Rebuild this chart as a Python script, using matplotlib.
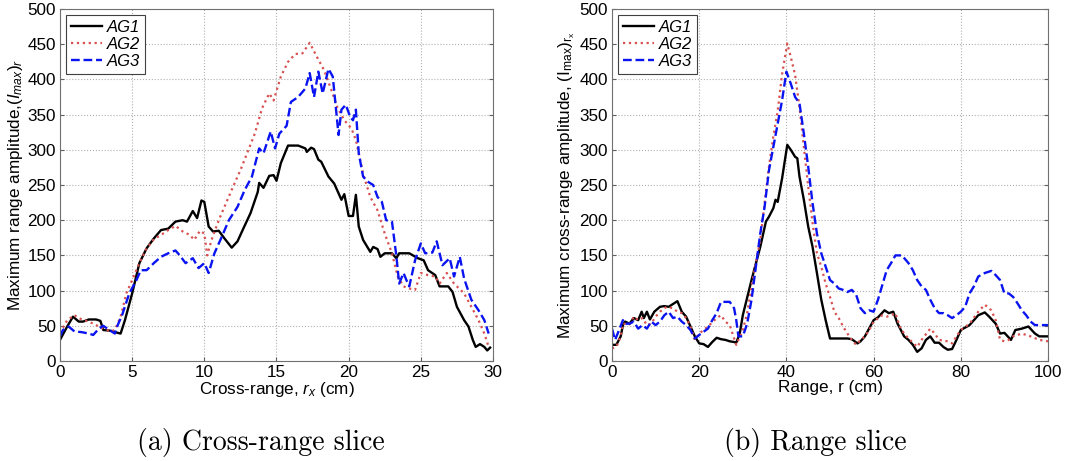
import matplotlib
matplotlib.use("Agg")
import matplotlib.pyplot as plt
import numpy as np

plt.rcParams['font.family'] = ['Liberation Sans', 'DejaVu Sans']
plt.rcParams['mathtext.fontset'] = 'custom'
plt.rcParams['mathtext.rm'] = 'Liberation Sans'
plt.rcParams['mathtext.it'] = 'Liberation Sans:italic'

# ---------------- (a) Cross-range slice ----------------
a_ag1_x = [0, 0.5, 0.9, 1.3, 1.6, 2, 2.5, 2.8, 3.0, 3.5, 4.0, 4.2, 4.5, 5.0, 5.5, 6, 6.5, 7, 7.5, 8, 8.5, 8.8,
           9.2, 9.5, 9.8, 10, 10.3, 10.6, 11, 11.4, 11.9, 12.3, 12.7, 13.2, 13.7, 13.8, 14.1, 14.5, 14.8, 15.0,
           15.3, 15.8, 16.5, 17, 17.1, 17.4, 17.6, 17.9, 18.1, 18.6, 19, 19.5, 19.7, 20, 20.3, 20.5, 20.7, 21,
           21.5, 21.7, 22, 22.2, 22.5, 23, 23.3, 23.5, 24.2, 24.8, 25.2, 25.5, 26, 26.3, 26.9, 27.2, 27.5, 28.0,
           28.3, 28.6, 28.8, 29.1, 29.4, 29.6, 29.8]
a_ag1_y = [30, 49, 63, 56, 56, 59, 59, 57, 44, 43, 40, 39, 58, 96, 139, 160, 174, 186, 188, 198, 200, 198,
           213, 203, 228, 226, 191, 184, 185, 174, 161, 170, 188, 210, 240, 253, 246, 263, 264, 256,
           281, 306, 306, 302, 297, 303, 301, 286, 283, 262, 252, 229, 237, 206, 206, 236, 191, 172,
           155, 162, 159, 148, 153, 153, 146, 153, 153, 146, 143, 129, 122, 106, 106, 98, 77, 58,
           49, 30, 20, 24, 20, 15, 19]

a_ag2_x = [0, 0.5, 1, 1.5, 2, 2.5, 3, 3.5, 3.8, 4.2, 4.6, 5, 5.5, 6, 6.5, 7, 7.5, 8, 8.5, 9, 9.3, 9.7, 10,
           10.2, 10.5, 11, 11.5, 12, 12.5, 13, 13.5, 14, 14.5, 14.8, 15.3, 15.8, 16.3, 16.8, 17.3, 17.5, 17.8,
           18.3, 18.8, 19.2, 19.7, 20.2, 20.5, 21, 21.5, 22, 22.5, 23, 23.4, 23.8, 24.2, 24.6, 25, 25.5, 26,
           26.3, 26.8, 27.3, 28, 28.5, 29, 29.4, 29.7]
a_ag2_y = [40, 58, 65, 59, 56, 51, 46, 42, 44, 63, 96, 115, 139, 160, 173, 179, 186, 192, 184, 179, 172, 185, 181,
           150, 172, 200, 224, 248, 271, 297, 323, 359, 380, 370, 404, 425, 436, 437, 452, 444, 432,
           413, 385, 361, 342, 330, 314, 266, 233, 214, 181, 153, 120, 106, 103, 101, 125, 122, 120,
           110, 125, 110, 96, 77, 58, 39, 20]

a_ag3_x = [0, 0.2, 0.6, 1, 1.5, 2, 2.3, 2.7, 3, 3.5, 3.8, 4.0, 4.3, 4.8, 5.3, 5.6, 6, 6.5, 7, 7.5, 8, 8.3,
           8.7, 9.2, 9.6, 10, 10.3, 10.7, 11.2, 11.7, 12.3, 12.8, 13.3, 13.8, 14.1, 14.6, 14.9, 15.2, 15.7, 16,
           16.5, 17, 17.3, 17.6, 17.9, 18.2, 18.6, 18.9, 19.3, 19.5, 19.8, 20.1, 20.3, 20.5, 20.7, 21, 21.3,
           21.7, 22, 22.3, 22.6, 23, 23.3, 23.5, 23.8, 24, 24.2, 24.6, 25, 25.3, 25.8, 26.1, 26.5, 27, 27.3,
           27.7, 28, 28.5, 29, 29.4, 29.7]
a_ag3_y = [35, 44, 49, 42, 41, 39, 37, 46, 50, 43, 39, 51, 65, 96, 115, 129, 129, 139, 148, 153, 157, 150,
           139, 146, 132, 139, 125, 153, 176, 200, 219, 243, 262, 302, 295, 326, 302, 323, 334, 368,
           375, 387, 409, 375, 411, 380, 415, 404, 321, 357, 364, 347, 342, 357, 295, 262, 255,
           250, 233, 226, 200, 198, 150, 110, 125, 115, 106, 143, 167, 153, 154, 170, 136, 146, 120,
           148, 117, 87, 72, 58, 39]

# ---------------- (b) Range slice ----------------
b_ag1_x = [0, 1, 2, 2.5, 3, 4, 5, 6, 6.8, 7.3, 8, 8.7, 9.7, 11, 12, 13, 14, 15, 16, 17, 18, 19, 20, 21, 22,
           23, 24, 25, 26, 27, 28, 28.5, 29.3, 30, 32, 34, 35.3, 36, 37, 37.5, 38, 39, 40.2, 41, 42, 42.5,
           43, 44, 45, 46, 47, 48, 49, 50, 52, 54, 55, 56.3, 57, 58, 60, 61, 62.5, 63.5, 64.5, 65.5, 67,
           68, 69, 70, 71, 72, 73, 74, 75, 76, 77, 78, 79, 80, 82, 84, 85.5, 86.5, 88, 89, 90, 91.5, 92.5,
           94, 95.5, 97, 98, 100]
b_ag1_y = [23, 23, 35, 51, 56, 53, 61, 58, 70, 61, 70, 59, 70, 77, 78, 77, 81, 85, 70, 63, 49, 35, 25, 24, 20,
           27, 33, 31, 30, 28, 27, 26, 39, 65, 115, 162, 198, 205, 217, 229, 226, 259, 307, 300, 290, 288,
           262, 229, 191, 162, 125, 87, 58, 32, 32, 32, 31, 25, 28, 35, 58, 62, 72, 68, 70, 53, 35,
           30, 23, 13, 18, 30, 35, 26, 26, 20, 16, 17, 30, 44, 51, 65, 69, 63, 53, 39, 40, 30, 44,
           46, 49, 39, 35, 35]

b_ag2_x = [0, 1, 2, 2.5, 4, 5, 6, 7, 8, 9, 10, 11, 12.5, 14, 15, 16, 17, 18, 19, 20, 22, 24, 25, 26, 27, 28.5,
           29, 30, 31, 32, 34, 36, 37, 38, 39, 40.2, 41, 42, 43, 44, 45, 46, 47, 48, 49, 50, 51, 52, 53,
           54, 55, 56, 57, 58, 59, 60, 62, 63, 64, 65, 66, 67, 68, 70, 71, 73, 74, 75, 77, 78, 79, 80, 82,
           84, 85.5, 87, 88, 89, 90, 91, 92, 94, 96, 98, 100]
b_ag2_y = [18, 20, 35, 53, 52, 63, 58, 61, 51, 53, 63, 70, 77, 75, 70, 68, 61, 49, 30, 39, 49, 61, 65, 56, 51, 23,
           30, 44, 68, 106, 172, 276, 319, 355, 407, 451, 432, 406, 361, 304, 248, 196, 153, 134, 110, 91, 70, 61, 49,
           39, 30, 23, 30, 35, 44, 56, 65, 63, 65, 68, 49, 39, 32, 20, 30, 46, 39, 30, 28, 25, 35, 44, 53,
           70, 80, 72, 58, 30, 28, 30, 35, 39, 35, 30, 28]

b_ag3_x = [0, 0.7, 1.5, 2.5, 3, 4, 5, 6, 7, 8, 9, 10, 11, 12, 13, 14, 15, 16, 17, 18, 19, 20, 22, 23, 24, 25,
           27, 28, 28.5, 29, 30, 31, 32, 33, 34, 35, 36, 37, 38, 39, 40, 41, 42, 43, 44, 45, 46, 47, 48, 49,
           50, 51, 52, 53, 54, 55, 56, 57, 58, 59, 60, 61, 62, 63, 64, 65, 66.5, 68, 69, 70, 71, 72, 73, 74,
           75, 76, 77, 78, 79, 80, 81, 82, 83, 84, 85.5, 87, 88, 89, 90, 91, 92, 93, 94, 95, 96, 97, 98, 100]
b_ag3_y = [46, 30, 42, 58, 53, 53, 56, 46, 51, 46, 56, 51, 56, 65, 70, 61, 63, 56, 51, 44, 32, 37, 46, 58, 68, 84,
           84, 75, 58, 35, 35, 53, 87, 134, 181, 219, 271, 304, 337, 370, 411, 394, 375, 366, 323, 276, 224, 181, 153, 134,
           115, 110, 103, 101, 98, 101, 94, 75, 68, 72, 70, 87, 108, 129, 139, 150, 150, 139, 129, 115, 106, 101, 87, 75,
           68, 68, 65, 61, 65, 70, 77, 96, 106, 120, 125, 128, 122, 115, 96, 96, 91, 82, 72, 65, 56, 51, 51, 51]

series_names = ['AG1', 'AG2', 'AG3']
y_ticks = [0, 50, 100, 150, 200, 250, 300, 350, 400, 450, 500]
a_x_ticks = [0, 5, 10, 15, 20, 25, 30]
b_x_ticks = [0, 20, 40, 60, 80, 100]

styles = [dict(color='black', ls='-', lw=1.7),
          dict(color='#d85050', ls=':', lw=1.6),
          dict(color='#0a14f0', ls='--', lw=1.7)]

fig = plt.figure(figsize=(10.75, 4.61), dpi=100)
ax1 = fig.add_axes([0.0558, 0.2169, 0.4028, 0.7636])
ax2 = fig.add_axes([0.5693, 0.2169, 0.4056, 0.7636])


def style_ax(ax, xlim, xticks):
    ax.set_xlim(*xlim)
    ax.set_ylim(0, 500)
    ax.set_xticks(xticks)
    ax.set_yticks(y_ticks)
    ax.grid(True, ls=':', color='#b0b0b0', lw=0.8)
    ax.tick_params(direction='in', length=3, labelsize=12.3, color='#606060', pad=3,
                   right=True, top=False)
    for s in ax.spines.values():
        s.set_color('#707070')
        s.set_linewidth(0.8)
    leg = ax.legend(loc='upper left', prop={'style': 'italic', 'size': 12},
                    fancybox=False, framealpha=1, edgecolor='#404040', borderaxespad=0.35,
                    handlelength=1.9, handletextpad=0.25, borderpad=0.3, labelspacing=0.12)
    leg.get_frame().set_linewidth(0.8)


for xs, ys, name, st in zip([a_ag1_x, a_ag2_x, a_ag3_x], [a_ag1_y, a_ag2_y, a_ag3_y], series_names, styles):
    ax1.plot(xs, ys, label=name, **st)
style_ax(ax1, (0, 30), a_x_ticks)
ax1.set_xlabel(r'Cross-range, $r_x$ (cm)', fontsize=12.3, labelpad=0)
ax1.set_ylabel(r'Maximum range amplitude,$(I_{max})_r$', fontsize=12.3, labelpad=2)

for xs, ys, name, st in zip([b_ag1_x, b_ag2_x, b_ag3_x], [b_ag1_y, b_ag2_y, b_ag3_y], series_names, styles):
    ax2.plot(xs, ys, label=name, **st)
style_ax(ax2, (0, 100), b_x_ticks)
ax2.set_xlabel('Range, r (cm)', fontsize=12.3, labelpad=0)
ax2.set_ylabel(r'Maximum cross-range amplitude, $(\mathrm{I}_{\mathrm{max}})_{\mathrm{r_x}}$', fontsize=12.3, labelpad=2)

fig.text(0.243, 0.041, '(a) Cross-range slice', ha='center', va='center', fontsize=20,
         family=['cmr10', 'DejaVu Serif'])
fig.text(0.758, 0.041, '(b) Range slice', ha='center', va='center', fontsize=20,
         family=['cmr10', 'DejaVu Serif'])

fig.savefig('out.png', dpi=100)
